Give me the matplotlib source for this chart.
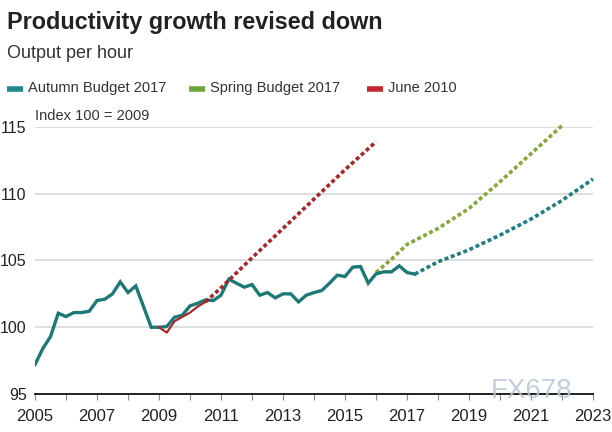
import numpy as np
import matplotlib
matplotlib.use("Agg")
import matplotlib.pyplot as plt

plt.rcParams['font.family'] = ['Liberation Sans', 'DejaVu Sans']

# ---- data ----
autumn_start = 2005.0          # quarterly series, first quarter
autumn_values = [97.2, 98.4, 99.3, 101.05, 100.8, 101.1, 101.1, 101.2,
                 102.0, 102.1, 102.5, 103.4, 102.6, 103.1, 101.55, 100.0,
                 100.0, 100.05, 100.75, 100.9, 101.6, 101.8, 102.05, 102.0,
                 102.4, 103.6, 103.3, 103.0, 103.2, 102.4, 102.6, 102.2,
                 102.5, 102.5, 101.9, 102.4, 102.6, 102.75, 103.3, 103.9,
                 103.8, 104.5, 104.55, 103.3, 104.0, 104.15, 104.15, 104.6,
                 104.1, 103.98]
autumn_fc_years = [2017.25, 2018, 2019, 2020, 2021, 2022, 2023]
autumn_fc_values = [103.98, 104.9, 105.8, 106.9, 108.1, 109.5, 111.1]

spring_years = [2016.0, 2016.5, 2017.0, 2018.0, 2019.0, 2020.0, 2021.0, 2022.0]
spring_values = [104.1, 105.1, 106.2, 107.4, 108.9, 110.9, 113.0, 115.1]

june_years = [2009.0, 2009.25, 2009.5, 2010.0, 2010.25, 2010.5]
june_values = [100.0, 99.6, 100.45, 101.1, 101.55, 101.9]
june_fc_years = [2010.5, 2011, 2012, 2013, 2014, 2015, 2016]
june_fc_values = [101.9, 102.95, 105.2, 107.4, 109.6, 111.8, 113.9]

y_ticks = [95, 100, 105, 110, 115]
x_label_years = [2005, 2007, 2009, 2011, 2013, 2015, 2017, 2019, 2021, 2023]

title = "Productivity growth revised down"
subtitle = "Output per hour"
index_note = "Index 100 = 2009"
legend_labels = ["Autumn Budget 2017", "Spring Budget 2017", "June 2010"]

# ---- style ----
teal = "#1c7a76"
teal_fc = "#1f7f80"
green = "#86a83a"
red = "#a8282a"
leg_colors = ["#1e8a8c", "#6fa63c", "#c2262e"]

fig = plt.figure(figsize=(6.12, 4.32), dpi=100)
ax = fig.add_axes([35 / 612, 1 - 394 / 432, (593 - 35) / 612, (394 - 127) / 432])

autumn_years = autumn_start + 0.25 * np.arange(len(autumn_values))

dot = (0, (1.1, 0.75))
ax.plot(autumn_years, autumn_values, color=teal, lw=2.4, solid_joinstyle='miter',
        zorder=4)
ax.plot(autumn_fc_years, autumn_fc_values, color=teal_fc, lw=2.6, linestyle=dot,
        dash_capstyle='butt', zorder=4, clip_on=False)
ax.plot(spring_years, spring_values, color=green, lw=2.6, linestyle=dot,
        dash_capstyle='butt', zorder=3, clip_on=False)
ax.plot(june_years, june_values, color=red, lw=1.6, zorder=5)
ax.plot(june_fc_years, june_fc_values, color=red, lw=2.6, linestyle=dot,
        dash_capstyle='butt', zorder=5)

ax.set_xlim(2005, 2023)
ax.set_ylim(95, 115)

ax.set_yticks(y_ticks)
ax.set_yticklabels([str(v) for v in y_ticks])
ax.tick_params(axis='y', length=0, pad=6, labelsize=11.5, labelcolor="#222222")
ax.yaxis.grid(True, color="#d8d8d8", lw=1.2)
ax.set_axisbelow(True)

ax.set_xticks(x_label_years)
ax.set_xticklabels([str(v) for v in x_label_years])
ax.set_xticks(list(range(2005, 2024)), minor=True)
ax.tick_params(axis='x', which='both', length=4, width=0.8, color="#888888",
               direction='out', labelsize=12, labelcolor="#222222", pad=7)

for s in ['left', 'right', 'top']:
    ax.spines[s].set_visible(False)
ax.spines['bottom'].set_color("#222222")
ax.spines['bottom'].set_linewidth(1.4)
ax.spines['bottom'].set_zorder(6)

# titles
fig.text(7 / 612, 1 - 22 / 432, title, fontsize=16.8, fontweight='bold',
         color="#222222", va='center', ha='left')
fig.text(7 / 612, 1 - 54 / 432, subtitle, fontsize=13, color="#333333",
         va='center', ha='left')

# legend row
leg_x = [7, 189, 367]
for lx, lab, c in zip(leg_x, legend_labels, leg_colors):
    fig.add_artist(plt.Line2D([lx / 612, (lx + 16) / 612], [1 - 89 / 432, 1 - 89 / 432],
                              color=c, lw=4, solid_capstyle='butt',
                              transform=fig.transFigure))
    fig.text((lx + 21) / 612, 1 - 88 / 432, lab, fontsize=10.5, color="#333333",
             va='center', ha='left')

fig.text(35 / 612, 1 - 116 / 432, index_note, fontsize=10.5, color="#333333",
         va='center', ha='left')

# watermark
fig.text(532 / 612, 1 - 391 / 432, "FX678", fontsize=20, color="#b9c5d6",
         alpha=0.85, va='center', ha='center', zorder=10)

fig.savefig("out.png", dpi=100)
